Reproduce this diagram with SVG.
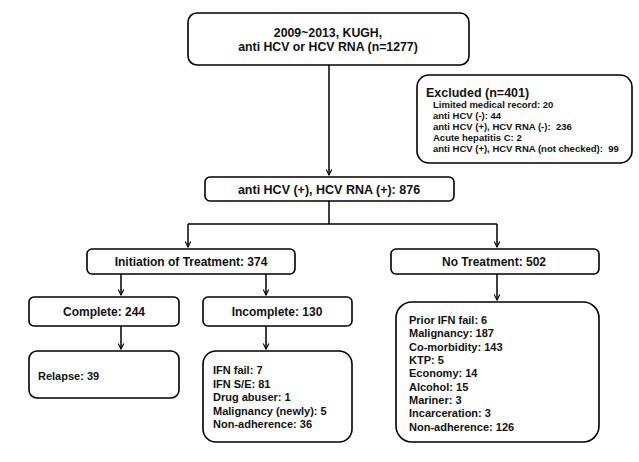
<svg xmlns="http://www.w3.org/2000/svg" width="639" height="462" viewBox="0 0 639 462">
<defs>
<style>
.box{fill:#fff;stroke:#000;stroke-width:1.6}
.t{font-family:"Liberation Sans",Arial,sans-serif;font-weight:bold;font-size:11px;fill:#111}
.c{text-anchor:middle}
.m{font-size:12px}
.s{font-size:9.5px}
.h{font-size:12.5px}
.ln{fill:none;stroke:#000;stroke-width:1.5}
</style>
<marker id="ar" viewBox="0 0 10 10" refX="9" refY="5" markerWidth="7" markerHeight="7" orient="auto" markerUnits="userSpaceOnUse">
<path d="M1,1 L9,5 L1,9" fill="none" stroke="#000" stroke-width="1.6"/>
</marker>
</defs>
<rect width="639" height="462" fill="#fff"/>
<g id="connectors">
<path class="ln" d="M329,65 V175" marker-end="url(#ar)"/>
<path class="ln" d="M329,201 V224"/>
<path class="ln" d="M188,224 H497"/>
<path class="ln" d="M188,224 V247" marker-end="url(#ar)"/>
<path class="ln" d="M497,224 V247" marker-end="url(#ar)"/>
<path class="ln" d="M121,274 V295" marker-end="url(#ar)"/>
<path class="ln" d="M266,274 V295" marker-end="url(#ar)"/>
<path class="ln" d="M121,326 V349" marker-end="url(#ar)"/>
<path class="ln" d="M266,326 V349" marker-end="url(#ar)"/>
<path class="ln" d="M497,274 V300" marker-end="url(#ar)"/>
</g>
<g id="start">
<rect class="box" x="188" y="13" width="281" height="52" rx="9"/>
<text class="t c" x="328" y="37" style="font-size:12.3px">2009~2013, KUGH,</text>
<text class="t c" x="328" y="51" style="font-size:12.3px">anti HCV or HCV RNA (n=1277)</text>
</g>
<g id="excluded">
<rect class="box" x="417" y="75" width="215" height="88" rx="12"/>
<text class="t h" x="426" y="97">Excluded (n=401)</text>
<text class="t s" x="433" y="107.5" xml:space="preserve">Limited medical record: 20</text>
<text class="t s" x="433" y="119" xml:space="preserve">anti HCV (-): 44</text>
<text class="t s" x="433" y="130" xml:space="preserve">anti HCV (+), HCV RNA (-):  236</text>
<text class="t s" x="433" y="140.5" xml:space="preserve">Acute hepatitis C: 2</text>
<text class="t s" x="433" y="151.5" xml:space="preserve">anti HCV (+), HCV RNA (not checked):  99</text>
</g>
<g id="positive">
<rect class="box" x="205" y="177" width="249" height="24" rx="5"/>
<text class="t c" x="329" y="193.5" style="font-size:12.5px">anti HCV (+), HCV RNA (+): 876</text>
</g>
<g id="initiation">
<rect class="box" x="87" y="249" width="208" height="25" rx="5"/>
<text class="t m c" x="191" y="266">Initiation of Treatment: 374</text>
</g>
<g id="notreatment">
<rect class="box" x="391" y="249" width="208" height="25" rx="5"/>
<text class="t m c" x="494" y="266">No Treatment: 502</text>
</g>
<g id="complete">
<rect class="box" x="29" y="297" width="150" height="29" rx="5"/>
<text class="t m c" x="104" y="316">Complete: 244</text>
</g>
<g id="incomplete">
<rect class="box" x="203" y="297" width="149" height="29" rx="5"/>
<text class="t m c" x="277" y="316">Incomplete: 130</text>
</g>
<g id="relapse">
<rect class="box" x="29" y="351" width="150" height="47" rx="8"/>
<text class="t" x="38" y="380">Relapse: 39</text>
</g>
<g id="incomplete-reasons">
<rect class="box" x="203" y="351" width="149" height="91" rx="13"/>
<text class="t" x="213" y="374">IFN fail: 7</text>
<text class="t" x="213" y="387.5">IFN S/E: 81</text>
<text class="t" x="213" y="401">Drug abuser: 1</text>
<text class="t" x="213" y="414.5">Malignancy (newly): 5</text>
<text class="t" x="213" y="428">Non-adherence: 36</text>
</g>
<g id="notreatment-reasons">
<rect class="box" x="396" y="302" width="203" height="140" rx="16"/>
<text class="t" x="409" y="324">Prior IFN fail: 6</text>
<text class="t" x="409" y="337.3">Malignancy: 187</text>
<text class="t" x="409" y="350.6">Co-morbidity: 143</text>
<text class="t" x="409" y="364">KTP: 5</text>
<text class="t" x="409" y="377.3">Economy: 14</text>
<text class="t" x="409" y="390.6">Alcohol: 15</text>
<text class="t" x="409" y="404">Mariner: 3</text>
<text class="t" x="409" y="417.3">Incarceration: 3</text>
<text class="t" x="409" y="430.6">Non-adherence: 126</text>
</g>
</svg>
